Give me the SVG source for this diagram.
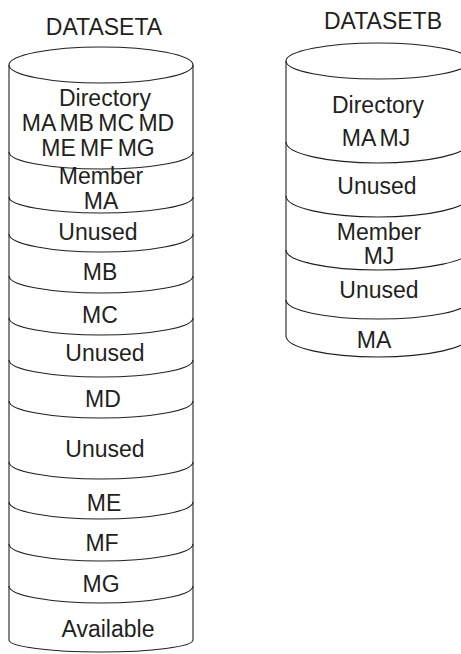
<svg xmlns="http://www.w3.org/2000/svg" width="461" height="654" viewBox="0 0 461 654">
<style>
.t{font-family:"Liberation Sans",Arial,sans-serif;font-size:23px;fill:#231f20;text-anchor:middle}
.w{word-spacing:-2px}
.s{fill:none;stroke:#231f20;stroke-width:1.1}
</style>
<rect width="461" height="654" fill="#fff"/>
<g id="datasetA">
<text class="t" x="104" y="35">DATASETA</text>
<path class="s" d="M9 65 L9 640 A92 12 0 0 0 193 640 L193 65"/>
<ellipse class="s" cx="101" cy="65" rx="92" ry="18"/>
<path class="s" d="M9 152 A92 17 0 0 0 193 152"/>
<path class="s" d="M9 197 A92 16 0 0 0 193 197"/>
<path class="s" d="M9 234 A92 18 0 0 0 193 234"/>
<path class="s" d="M9 276 A92 17 0 0 0 193 276"/>
<path class="s" d="M9 318 A92 17 0 0 0 193 318"/>
<path class="s" d="M9 360 A92 17 0 0 0 193 360"/>
<path class="s" d="M9 401 A92 17 0 0 0 193 401"/>
<path class="s" d="M9 462 A92 17 0 0 0 193 462"/>
<path class="s" d="M9 502 A92 17 0 0 0 193 502"/>
<path class="s" d="M9 544 A92 17 0 0 0 193 544"/>
<path class="s" d="M9 586 A92 17 0 0 0 193 586"/>
<text class="t" x="105" y="106">Directory</text>
<text class="t w" x="98" y="131">MA MB MC MD</text>
<text class="t w" x="98" y="156">ME MF MG</text>
<text class="t" x="101" y="184">Member</text>
<text class="t" x="101" y="209">MA</text>
<text class="t" x="98" y="240">Unused</text>
<text class="t" x="100" y="280">MB</text>
<text class="t" x="100" y="323">MC</text>
<text class="t" x="105" y="361">Unused</text>
<text class="t" x="103" y="407">MD</text>
<text class="t" x="105" y="457">Unused</text>
<text class="t" x="104" y="511">ME</text>
<text class="t" x="102" y="551">MF</text>
<text class="t" x="101" y="592">MG</text>
<text class="t" x="108" y="637">Available</text>
</g>
<g id="datasetB">
<text class="t" x="383" y="29">DATASETB</text>
<path class="s" d="M286 61 L286 336 A92 21 0 0 0 470 336 L470 61"/>
<ellipse class="s" cx="378" cy="61" rx="92" ry="18"/>
<path class="s" d="M286 142 A92 21 0 0 0 470 142"/>
<path class="s" d="M286 196 A92 21 0 0 0 470 196"/>
<path class="s" d="M286 250 A92 20 0 0 0 470 250"/>
<path class="s" d="M286 300 A92 19 0 0 0 470 300"/>
<text class="t" x="378" y="113">Directory</text>
<text class="t w" x="376" y="146">MA MJ</text>
<text class="t" x="377" y="194">Unused</text>
<text class="t" x="379" y="240">Member</text>
<text class="t" x="379" y="264">MJ</text>
<text class="t" x="379" y="298">Unused</text>
<text class="t" x="374" y="348">MA</text>
</g>
<g id="connectors"/>
</svg>
